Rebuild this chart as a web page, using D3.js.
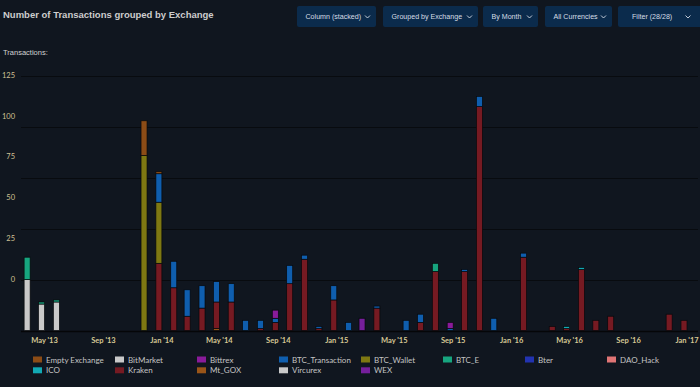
<!DOCTYPE html>
<html>
<head>
<meta charset="utf-8">
<script src="https://cdn.jsdelivr.net/npm/d3@7/dist/d3.min.js"></script>
<style>
  html, body { margin: 0; padding: 0; background: #10161f; }
  svg { display: block; }
</style>
</head>
<body>
<div id="chart"></div>
<script>
'use strict';

// data
var months = ["2013-04","2013-05","2013-06","2013-07","2013-08","2013-09","2013-10","2013-11","2013-12",
              "2014-01","2014-02","2014-03","2014-04","2014-05","2014-06","2014-07","2014-08","2014-09",
              "2014-10","2014-11","2014-12","2015-01","2015-02","2015-03","2015-04","2015-05","2015-06",
              "2015-07","2015-08","2015-09","2015-10","2015-11","2015-12","2016-01","2016-02","2016-03",
              "2016-04","2016-05","2016-06","2016-07","2016-08","2016-09","2016-10","2016-11","2016-12",
              "2017-01"];

// legend order (Highcharts style: first series sits on top of the stack)
var exchanges = ["Empty Exchange","BitMarket","Bittrex","BTC_Transaction","BTC_Wallet","BTC_E","Bter",
                 "DAO_Hack","ICO","Kraken","Mt_GOX","Vircurex","WEX"];

var emptyExchange  = [0,0,0,0,0,0,0,0,17, 1,0,0,0,0,0,0,0,0, 0,0,0,0,0,0,0,0,0, 0,0,0,0,0,0,0,0,0, 0,0,0,0,0,0,0,0,0, 0];
var bitMarket      = [0,0,0,0,0,0,0,0,0, 0,0,0,0,0,0,0,0,0, 0,0,0,0,0,0,0,0,0, 0,0,0,0,0,0,0,0,0, 0,0,0,0,0,0,0,0,0, 0];
var bittrex        = [0,0,0,0,0,0,0,0,0, 0,0,0,0,0,0,0,0,4, 0,0,0,0,0,0,0,0,0, 0,0,3,0,0,0,0,0,0, 0,0,0,0,0,0,0,0,0, 0];
var btcTransaction = [0,0,0,0,0,0,0,0,0, 14,13,13,11,10,9,5,4,2, 9,2,1,7,4,0,1,0,5, 4,0,1,1,5,6,0,2,0, 0,0,0,0,0,0,0,0,0, 0];
var btcWallet      = [0,0,0,0,0,0,0,0,86, 30,0,0,0,0,0,0,0,0, 0,0,0,0,0,0,0,0,0, 0,0,0,0,0,0,0,0,0, 0,0,0,0,0,0,0,0,0, 0];
var btcE           = [11,1,1,0,0,0,0,0,0, 0,0,0,0,0,0,0,0,0, 0,0,0,0,0,0,0,0,0, 0,4,0,0,0,0,0,0,0, 0,0,0,0,0,0,0,0,0, 0];
var bter           = [0,0,0,0,0,0,0,0,0, 0,0,0,0,0,0,0,0,0, 0,0,0,0,0,0,0,0,0, 0,0,0,0,0,0,0,0,0, 0,0,0,0,0,0,0,0,0, 0];
var daoHack        = [0,0,0,0,0,0,0,0,0, 0,0,0,0,0,0,0,0,0, 0,0,0,0,0,0,0,0,0, 0,0,0,0,0,0,0,0,0, 0,0,0,0,0,0,0,0,0, 0];
var ico            = [0,0,0,0,0,0,0,0,0, 0,0,0,0,0,0,0,0,0, 0,0,0,0,0,0,0,0,0, 0,0,0,0,0,0,0,0,0, 0,1,1,0,0,0,0,0,0, 0];
var kraken         = [0,0,0,0,0,0,0,0,0, 33,21,7,11,13,14,0,1,4, 23,35,1,15,0,0,11,0,0, 4,29,0,29,110,0,0,36,0, 2,1,30,5,7,0,0,0,8, 5];
var mtGox          = [0,0,0,0,0,0,0,0,0, 0,0,0,0,1,0,0,0,0, 0,0,0,0,0,0,0,0,0, 0,0,0,0,0,0,0,0,0, 0,0,0,0,0,0,0,0,0, 0];
var vircurex       = [25,13,14,0,0,0,0,0,0, 0,0,0,0,0,0,0,0,0, 0,0,0,0,0,0,0,0,0, 0,0,0,0,0,0,0,0,0, 0,0,0,0,0,0,0,0,0, 0];
var wex            = [0,0,0,0,0,0,0,0,0, 0,0,0,0,0,0,0,0,0, 0,0,0,0,0,6,0,0,0, 0,0,0,0,0,0,0,0,0, 0,0,0,0,0,0,0,0,0, 0];

var seriesValues = [emptyExchange, bitMarket, bittrex, btcTransaction, btcWallet, btcE, bter,
                    daoHack, ico, kraken, mtGox, vircurex, wex];

var yTicks = [0, 25, 50, 75, 100, 125];
var xTickLabels = ["May '13","Sep '13","Jan '14","May '14","Sep '14","Jan '15",
                   "May '15","Sep '15","Jan '16","May '16","Sep '16","Jan '17"];
var buttonLabels = ["Column (stacked)", "Grouped by Exchange", "By Month", "All Currencies", "Filter (28/28)"];

// styles
var colors = {
  "Empty Exchange": "#8c4c16",
  "BitMarket": "#c9c9c9",
  "Bittrex": "#8a1b9a",
  "BTC_Transaction": "#0f5eae",
  "BTC_Wallet": "#7e7812",
  "BTC_E": "#17a57f",
  "Bter": "#2233b0",
  "DAO_Hack": "#e07575",
  "ICO": "#12a9b4",
  "Kraken": "#761a22",
  "Mt_GOX": "#9a5518",
  "Vircurex": "#c9c9c9",
  "WEX": "#761f9c"
};

var width = 700,
    height = 387,
    plotLeft = 21,
    plotRight = 698,
    plotTop = 76,
    plotBottom = 330.5,
    barWidth = 6;

var parseMonth = d3.timeParse("%Y-%m");

var svg = d3.select("#chart")
  .append("svg")
    .attr("width", width)
    .attr("height", height);

svg.append("rect")
  .attr("width", width)
  .attr("height", height)
  .attr("fill", "#10161f");

// Title & controls
// ================

svg.append("text")
  .attr("x", 3)
  .attr("y", 17.5)
  .attr("fill", "#cdcdcd")
  .style("font", "bold 9.5px 'Liberation Sans', Arial, sans-serif")
  .text("Number of Transactions grouped by Exchange");

svg.append("text")
  .attr("x", 3)
  .attr("y", 55)
  .attr("fill", "#d2d2d2")
  .style("font", "7.5px 'Liberation Sans', Arial, sans-serif")
  .text("Transactions:");

var buttonBoxes = [
  {x: 297, w: 79},
  {x: 383, w: 95},
  {x: 483, w: 55},
  {x: 545, w: 67},
  {x: 618, w: 86}
];

var buttons = svg.selectAll("g.button")
    .data(buttonLabels)
  .enter().append("g")
    .attr("class", "button")
    .attr("transform", function(d, i) { return "translate(" + buttonBoxes[i].x + ",6)"; });

buttons.append("rect")
  .attr("width", function(d, i) { return buttonBoxes[i].w; })
  .attr("height", 21)
  .attr("rx", 2)
  .attr("fill", "#0b2b4c");

buttons.append("text")
  .attr("x", function(d, i) { return i === 4 ? 14 : 8.5; })
  .attr("y", 13.3)
  .attr("fill", "#d6dde6")
  .style("font", "7.1px 'Liberation Sans', Arial, sans-serif")
  .text(function(d) { return d; });

buttons.append("path")
  .attr("d", function(d, i) {
    var cx = i === 4 ? 70 : buttonBoxes[i].w - 8.5;
    return "M" + (cx - 2.5) + ",9.5L" + cx + ",12L" + (cx + 2.5) + ",9.5";
  })
  .attr("fill", "none")
  .attr("stroke", "#d6dde6")
  .attr("stroke-width", 0.9);

// Scales
// ======

var x = d3.scaleTime()
  .domain([parseMonth("2013-05"), parseMonth("2017-01")])
  .range([44.5, 687]);

var y = d3.scaleLinear()
  .domain([0, 125])
  .range([plotBottom, plotTop]);

// the tick labels of the reference sit off their grid lines
var yLabel = d3.scaleLinear()
  .domain([0, 125])
  .range([281.5, 78]);

// grid
svg.append("g")
  .selectAll("line")
  .data(yTicks)
  .enter().append("line")
    .attr("x1", plotLeft)
    .attr("x2", plotRight)
    .attr("y1", function(d) { return Math.round(y(d)) + 0.5; })
    .attr("y2", function(d) { return Math.round(y(d)) + 0.5; })
    .attr("stroke", function(d) { return d === 0 ? "#050608" : "#080b0f"; })
    .attr("stroke-width", function(d) { return d === 0 ? 1.5 : 1; });

svg.append("g")
  .selectAll("text")
  .data(yTicks)
  .enter().append("text")
    .attr("x", 15)
    .attr("y", function(d) { return yLabel(d); })
    .attr("text-anchor", "end")
    .attr("fill", "#cfc194")
    .style("font", "7.5px Lato, sans-serif")
    .text(function(d) { return d; });

// Bars
// ====

var table = months.map(function(m, i) {
  var row = {date: parseMonth(m)};
  exchanges.forEach(function(name, k) { row[name] = seriesValues[k][i]; });
  return row;
});

// bottom of the stack is the last legend entry
var stack = d3.stack().keys(exchanges.slice().reverse());
var layers = stack(table);

var layer = svg.append("g")
  .selectAll("g.layer")
  .data(layers)
  .enter().append("g")
    .attr("class", "layer")
    .attr("fill", function(d) { return colors[d.key]; });

layer.selectAll("rect")
  .data(function(d) { return d.filter(function(p) { return p[1] - p[0] > 0; }); })
  .enter().append("rect")
    .attr("x", function(d) { return x(d.data.date) - 3 - barWidth / 2; })
    .attr("y", function(d) { return y(d[1]); })
    .attr("width", barWidth)
    .attr("height", function(d) { return y(d[0]) - y(d[1]); })
    .attr("stroke", "#07090c")
    .attr("stroke-width", 0.7);

// x axis labels
var xTickDates = d3.timeMonth.every(4).range(parseMonth("2013-05"), parseMonth("2017-02"));

svg.append("g")
  .selectAll("text")
  .data(xTickDates)
  .enter().append("text")
    .attr("x", function(d) { return x(d); })
    .attr("y", 343)
    .attr("text-anchor", "middle")
    .attr("fill", "#d6c895")
    .style("font", "bold 7.5px Lato, sans-serif")
    .text(function(d, i) { return xTickLabels[i]; });

// Legend
// ======

var legend = svg.append("g")
  .selectAll("g.item")
  .data(exchanges)
  .enter().append("g")
    .attr("class", "item")
    .attr("transform", function(d, i) {
      return "translate(" + (33 + (i % 8) * 82) + "," + (356.5 + Math.floor(i / 8) * 10.8) + ")";
    });

legend.append("rect")
  .attr("width", 9)
  .attr("height", 6)
  .attr("fill", function(d) { return colors[d]; });

legend.append("text")
  .attr("x", 13)
  .attr("y", 6)
  .attr("fill", "#c4c4c4")
  .style("font", "8px Lato, sans-serif")
  .text(function(d) { return d; });

</script>
</body>
</html>
